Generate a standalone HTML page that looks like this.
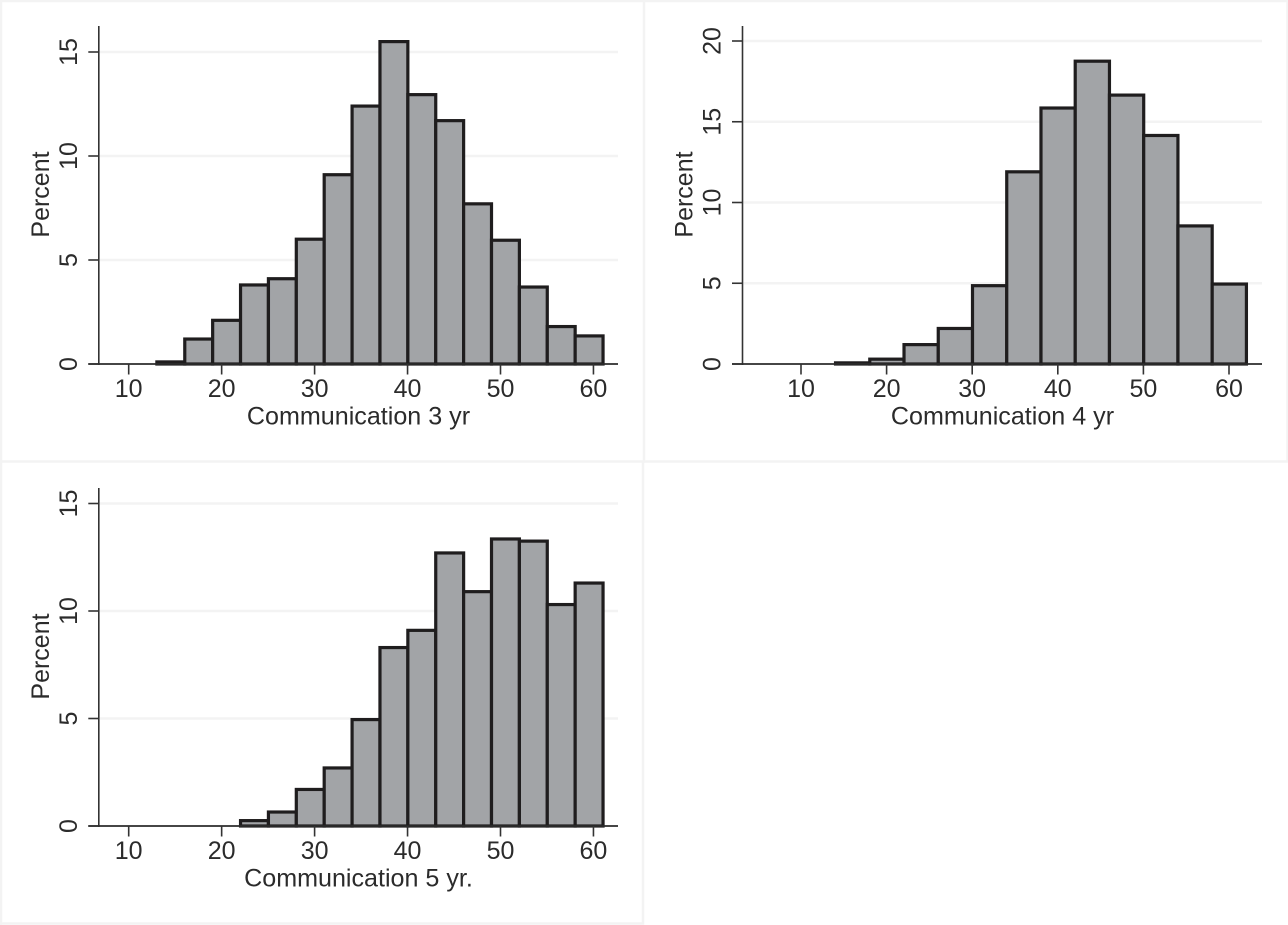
<!DOCTYPE html>
<html lang="en">
<head>
<meta charset="utf-8">
<title>Communication histograms</title>
<style>
html,body{margin:0;padding:0;background:#fff;width:1288px;height:925px;overflow:hidden}
svg{display:block;font-family:"Liberation Sans",Arial,sans-serif}
text{fill:#2b2b2b}
</style>
</head>
<body>
<svg id="chart" xmlns="http://www.w3.org/2000/svg" width="1288" height="925" viewBox="0 0 1288 925"></svg>
<script>
var bins3yr = [13,16,19,22,25,28,31,34,37,40,43,46,49,52,55,58];
var percent3yr = [0.1,1.2,2.1,3.8,4.1,6.0,9.1,12.4,15.5,12.95,11.7,7.7,5.95,3.7,1.8,1.35];
var binWidth3yr = 3;
var yTicks3yr = [0,5,10,15];

var bins4yr = [14,18,22,26,30,34,38,42,46,50,54,58];
var percent4yr = [0.07,0.3,1.2,2.2,4.85,11.9,15.85,18.75,16.65,14.15,8.55,4.95];
var binWidth4yr = 4;
var yTicks4yr = [0,5,10,15,20];

var bins5yr = [22,25,28,31,34,37,40,43,46,49,52,55,58];
var percent5yr = [0.25,0.65,1.7,2.7,4.95,8.3,9.1,12.7,10.9,13.35,13.25,10.3,11.3];
var binWidth5yr = 3;
var yTicks5yr = [0,5,10,15];

var xTicks = [10,20,30,40,50,60];

var NS = 'http://www.w3.org/2000/svg';
var svg = document.getElementById('chart');

function add(parent, tag, attrs, text) {
  var el = document.createElementNS(NS, tag);
  for (var k in attrs) el.setAttribute(k, attrs[k]);
  if (text !== undefined) el.textContent = text;
  parent.appendChild(el);
  return el;
}

function drawPanel(p) {
  var g = add(svg, 'g', {});
  
  

  var sx = function (v) { return p.x10 + (v - 10) * p.xScale; };
  var sy = function (v) { return p.y0 - v * p.yScale; };

  // gridlines
  p.yTicks.forEach(function (t) {
    if (t === 0) return;
    var gl = add(g, 'line', {x1: p.axisX + 1, x2: p.xEnd, y1: sy(t), y2: sy(t), stroke: '#f3f3f3', 'stroke-width': 2.4});
    
    
  });

  // bars
  p.bins.forEach(function (b, i) {
    var top = sy(p.values[i]);
    var bar = add(g, 'rect', {
      x: sx(b) + 0.3, y: top, width: sx(b + p.binWidth) - sx(b), height: p.y0 - top,
      fill: '#a2a4a7', stroke: '#1f1d1e', 'stroke-width': 3.2
    });
    
    
  });

  // axes
  var ya = add(g, 'line', {x1: p.axisX, x2: p.axisX, y1: p.axisTop, y2: p.y0 + 1, stroke: '#333', 'stroke-width': 1.6});
  
  
  var xa = add(g, 'line', {x1: p.axisX - 10.5, x2: p.xEnd, y1: p.y0, y2: p.y0, stroke: '#2b2b2b', 'stroke-width': 1.8});
  
  

  // y ticks
  p.yTicks.forEach(function (t) {
    var tk = add(g, 'line', {x1: p.axisX - 10.5, x2: p.axisX, y1: sy(t), y2: sy(t), stroke: '#333', 'stroke-width': 1.6});
    
    
    var lx = p.axisX - 22;
    var lb = add(g, 'text', {x: lx, y: sy(t), 'font-size': 25, 'text-anchor': 'middle',
      transform: 'rotate(-90 ' + lx + ' ' + sy(t) + ')'}, String(t));
    
    
  });

  // x ticks
  xTicks.forEach(function (t) {
    var tk = add(g, 'line', {x1: sx(t), x2: sx(t), y1: p.y0, y2: p.y0 + 10.5, stroke: '#333', 'stroke-width': 1.6});
    
    
    var lb = add(g, 'text', {x: sx(t), y: p.y0 + 33.2, 'font-size': 25, 'text-anchor': 'middle'}, String(t));
    
    
  });

  // titles
  var xt = add(g, 'text', {x: p.titleX, y: p.y0 + 60.5, 'font-size': 25.1, 'text-anchor': 'middle'}, p.title);
  
  
  var ytx = p.axisX - 50;
  var yty = p.yTitleY;
  var yt = add(g, 'text', {x: ytx, y: yty, 'font-size': 25, 'text-anchor': 'middle',
    transform: 'rotate(-90 ' + ytx + ' ' + yty + ')'}, 'Percent');
  
  
}

// panel frames
function frame(name, d) {
  var f = add(svg, 'path', {d: d, fill: 'none', stroke: '#f3f3f3', 'stroke-width': 2.4});
  
  
}
frame('panel-frame-top-left', 'M1 925 V1 H644 V461.5 H0');
frame('panel-frame-top-right', 'M644.5 1 H1287.5 V461.5 H644.5');
frame('panel-frame-bottom-left', 'M643 462 V923.5 H0');

drawPanel({name: 'panel-communication-3yr', title: 'Communication 3 yr', bins: bins3yr, values: percent3yr,
  binWidth: binWidth3yr, yTicks: yTicks3yr, x10: 128.7, xScale: 9.295, y0: 364, yScale: 20.8,
  axisX: 98.8, axisTop: 26, xEnd: 618, titleX: 358.5, yTitleY: 194.5});
drawPanel({name: 'panel-communication-4yr', title: 'Communication 4 yr', bins: bins4yr, values: percent4yr,
  binWidth: binWidth4yr, yTicks: yTicks4yr, x10: 801, xScale: 8.56, y0: 364, yScale: 16.15,
  axisX: 742.5, axisTop: 26, xEnd: 1262, titleX: 1002.5, yTitleY: 194.5});
drawPanel({name: 'panel-communication-5yr', title: 'Communication 5 yr.', bins: bins5yr, values: percent5yr,
  binWidth: binWidth5yr, yTicks: yTicks5yr, x10: 128.7, xScale: 9.295, y0: 826, yScale: 21.5,
  axisX: 98.8, axisTop: 488, xEnd: 618, titleX: 358.5, yTitleY: 656.5});
</script>
</body>
</html>
